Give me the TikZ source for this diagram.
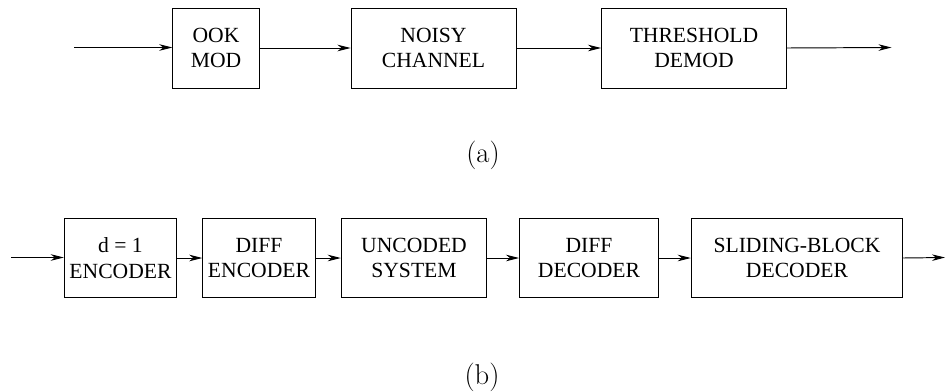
\documentclass[tikz,border=0pt]{standalone}
\usepackage{fontspec}
\usepackage{tikz}
\usetikzlibrary{arrows.meta, positioning}
\newfontfamily\blockfont{Liberation Serif}

\begin{document}
\begin{tikzpicture}[>=Stealth, line width=0.55pt,
        blk/.style={draw, inner sep=0pt, align=center,
            font=\blockfont\fontsize{12.3}{14.4}\selectfont},
        flow/.style={-{Stealth[length=2.6mm, width=1.3mm, inset=0.8mm]}},
        tag/.style={font=\fontsize{16.3}{19}\selectfont}]
        \useasboundingbox (0,0) rectangle (18.94,-7.82);
        % (a) uncoded
        \coordinate (ain) at (1.48,-0.95);
        \node[blk, minimum width=1.73cm, minimum height=1.6cm] (ook) at (4.32,-0.96) {OOK\\MOD};
        \node[blk, minimum width=3.3cm, minimum height=1.6cm] (ch) at (8.67,-0.96) {NOISY\\CHANNEL};
        \node[blk, minimum width=3.7cm, minimum height=1.6cm] (dem) at (13.88,-0.96) {THRESHOLD\\DEMOD};
        \coordinate (aout) at (17.83,-0.95);
        \draw[flow] (ain) -- (ain -| ook.west);
        \foreach \a/\b in {ook/ch,ch/dem} \draw[flow] (\a.east) -- (\b.west);
        \draw[flow] (dem.east) -- (aout);
        \node[tag] (la) at (9.66,-3.1) {(a)};
        % (b) coded
        \coordinate (bin) at (0.23,-5.15);
        \node[blk, minimum width=2.25cm, minimum height=1.58cm] (enc) at (2.41,-5.16) {d = 1\\ENCODER};
        \node[blk, minimum width=2.25cm, minimum height=1.58cm] (denc) at (5.18,-5.16) {DIFF\\ENCODER};
        \node[blk, minimum width=2.91cm, minimum height=1.58cm] (sys) at (8.28,-5.16) {UNCODED\\SYSTEM};
        \node[blk, minimum width=2.78cm, minimum height=1.58cm] (ddec) at (11.78,-5.16) {DIFF\\DECODER};
        \node[blk, minimum width=4.23cm, minimum height=1.58cm] (sbd) at (15.94,-5.16) {SLIDING-BLOCK\\DECODER};
        \coordinate (bout) at (18.9,-5.15);
        \draw[flow] (bin) -- (bin -| enc.west);
        \foreach \a/\b in {enc/denc,denc/sys,sys/ddec,ddec/sbd} \draw[flow] (\a.east) -- (\b.west);
        \draw[flow] (sbd.east) -- (bout);
        \node[tag] (lb) at (9.64,-7.54) {(b)};
    \end{tikzpicture}
\end{document}
